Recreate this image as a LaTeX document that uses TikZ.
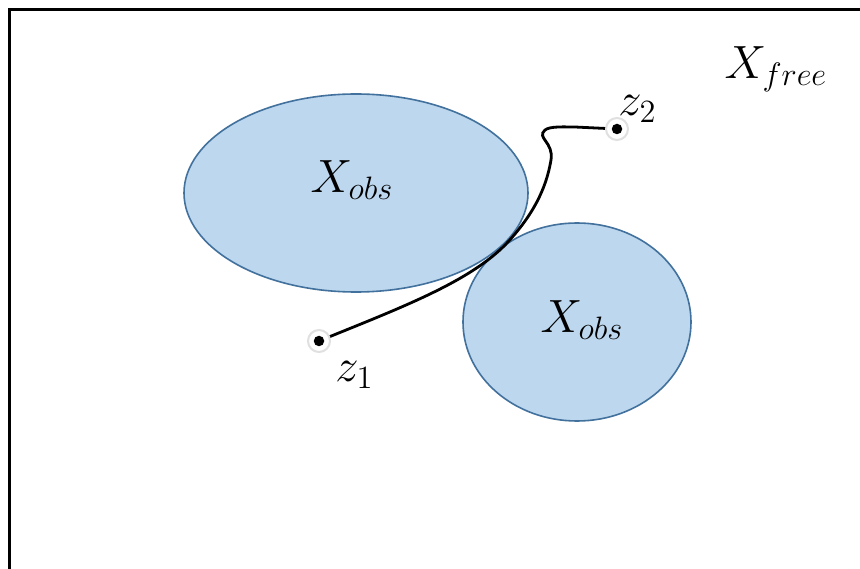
\documentclass[tikz,border=0pt]{standalone}
\begin{document}
\begin{tikzpicture}[x=1pt,y=-1pt,
  obs/.style={fill=obsfill,draw=obsline,line width=1.6pt},
  lbl/.style={inner sep=0pt,anchor=base,font=\huge,scale=2.25},
  zlbl/.style={inner sep=0pt,anchor=base west,font=\huge,scale=2.25},
  halo/.style={circle,fill=white,draw=black!12,line width=2pt,minimum size=22pt,inner sep=0pt},
  dotc/.style={circle,fill=black,minimum size=10.5pt,inner sep=0pt},
  pathline/.style={line width=2.8pt,line cap=round}]
\definecolor{obsfill}{HTML}{BDD7EE}
\definecolor{obsline}{HTML}{41719C}
\useasboundingbox (0,0) rectangle (860,569);
\fill[white] (0,0) rectangle (860,569);
% frame
\draw[line width=3.5pt] (9.5,569) -- (9.5,9.5) -- (860,9.5);
% obstacles
\draw[obs] (356,193) ellipse [x radius=172pt, y radius=99pt];
\draw[obs] (577,322) ellipse [x radius=114pt, y radius=99pt];
% path
\coordinate (p1) at (319,341);
\coordinate (p2) at (617,129);
\draw[pathline] (p1) .. controls (400,308) and (470,282) .. (507,243)
  .. controls (532,216) and (546,190) .. (551,160)
  .. controls (554,142) and (536,138) .. (545,130)
  .. controls (550,126) and (565,127) .. (575,127) -- (p2);
% dots
\node[halo] (h1) at (p1) {};
\node[dotc] (z1) at (p1) {};
\node[halo] (h2) at (p2) {};
\node[dotc] (z2) at (p2) {};
% labels
\node[lbl] (xo1) at (352,193) {$X_{obs}$};
\node[lbl] (xo2) at (582,333) {$X_{obs}$};
\node[lbl] (xf) at (776,79) {$X_{free}$};
\node[zlbl] (lz1) at (335,382) {$z_1$};
\node[zlbl] (lz2) at (618,116) {$z_2$};
\end{tikzpicture}
\end{document}
